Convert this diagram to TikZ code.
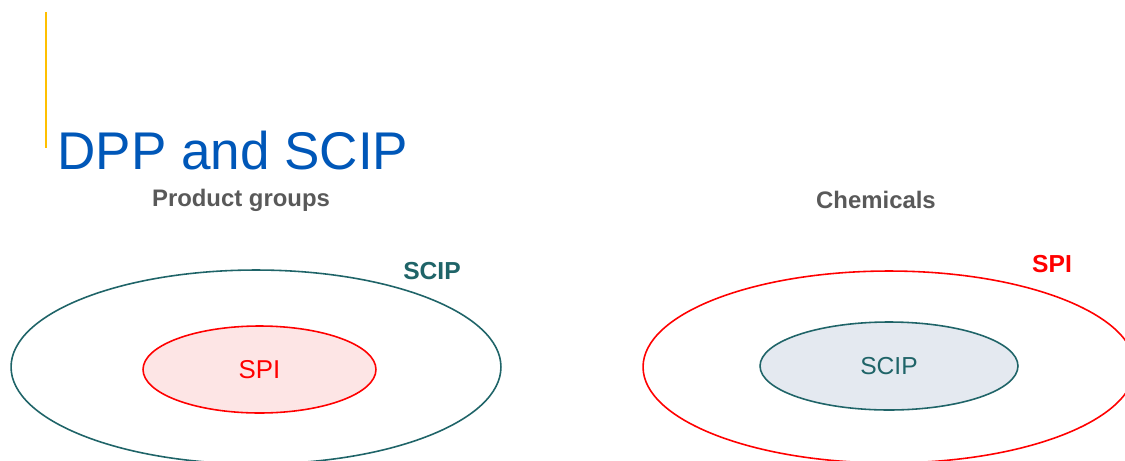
\documentclass[tikz,border=0pt]{standalone}
\usepackage{fontspec}
\setmainfont{Liberation Sans}
\usepackage{xcolor}
\usepackage{tikz}
\usetikzlibrary{shapes.geometric, positioning}

\definecolor{titleblue}{HTML}{0057B8}
\definecolor{accentyellow}{HTML}{FFC000}
\definecolor{scipteal}{HTML}{1F6468}
\definecolor{spired}{HTML}{FF0000}
\definecolor{headgray}{HTML}{595959}
\definecolor{spifill}{HTML}{FDE5E5}
\definecolor{scipfill}{HTML}{E4E9F0}

\tikzset{
    outerset/.style={ellipse, draw, line width=0.9pt, inner sep=0pt},
    innerset/.style={ellipse, draw, line width=0.9pt, inner sep=0pt, font=\fontsize{14.7}{17}\selectfont},
    heading/.style={text=headgray, font=\bfseries\fontsize{13.6}{16}\selectfont},
    setlabel/.style={font=\bfseries\fontsize{14}{16}\selectfont}
}

\begin{document}
\begin{tikzpicture}[x=0.02cm, y=-0.02cm]
                % 1. Khung
                \useasboundingbox (0,0) rectangle (1125,460);
                \clip (0,0) rectangle (1125,460);
                \fill[white] (0,0) rectangle (1125,460);
                
                % 2. Tiêu đề
                \draw[accentyellow, line width=1.4pt] (46,12) -- (46,148);
                \node[anchor=base west, inner sep=0pt, text=titleblue,
                      font=\fontsize{30.2}{34}\selectfont] (title) at (57,169) {DPP and SCIP};
                \node[heading] (prodhead) at (241,200) {Product groups};
                \node[heading] (chemhead) at (876,200) {Chemicals};
                
                % 3. Nhóm sản phẩm
                \node[outerset, draw=scipteal, minimum width=9.8cm, minimum height=3.88cm]
                    (scipout) at (256,367) {};
                \node[innerset, draw=spired, fill=spifill, text=spired,
                      minimum width=4.66cm, minimum height=1.74cm]
                    (spiin) at (259.5,369.5) {SPI};
                \node[setlabel, text=scipteal] (sciplab) at (432,271) {SCIP};
                
                % 4. Hóa chất
                \node[outerset, draw=spired, minimum width=9.84cm, minimum height=3.84cm]
                    (spiout) at (889,367) {};
                \node[innerset, draw=scipteal, fill=scipfill, text=scipteal,
                      font=\fontsize{14}{16}\selectfont,
                      minimum width=5.16cm, minimum height=1.76cm]
                    (scipin) at (889,366) {SCIP};
                \node[setlabel, text=spired] (spilab) at (1052,264) {SPI};
            \end{tikzpicture}
\end{document}
